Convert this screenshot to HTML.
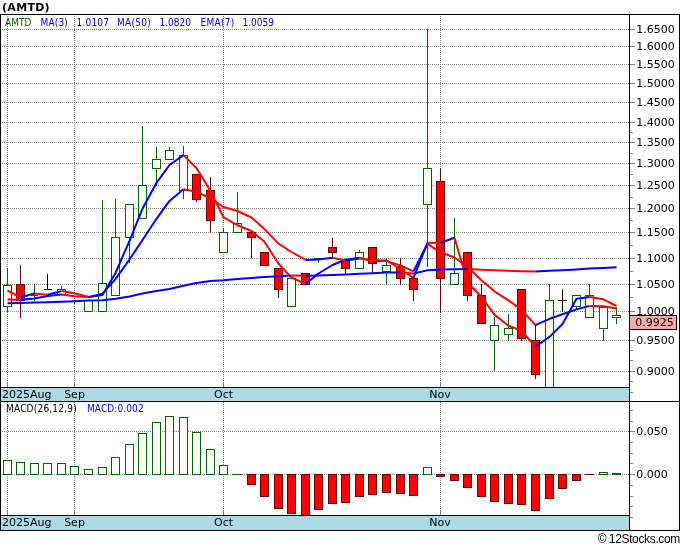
<!DOCTYPE html>
<html><head><meta charset="utf-8"><title>AMTD</title>
<style>
html,body{margin:0;padding:0;background:#fff;}
body{width:680px;height:546px;overflow:hidden;}
svg{display:block;}
.ax{font-family:"DejaVu Sans","Liberation Sans",sans-serif;font-size:11px;fill:#000;}
.lg{font-family:"DejaVu Sans Condensed","Liberation Sans",sans-serif;font-size:10px;}
.tt{font-family:"DejaVu Sans","Liberation Sans",sans-serif;font-size:11px;font-weight:bold;fill:#000;letter-spacing:0.3px;}
.cp{font-family:"Liberation Sans",sans-serif;font-size:12px;fill:#000;letter-spacing:-0.35px;}
</style></head>
<body>
<svg width="680" height="546" viewBox="0 0 680 546">
<rect x="0" y="0" width="680" height="546" fill="#fff"/>
<g shape-rendering="crispEdges" stroke="#8a8a8a" stroke-width="1" stroke-dasharray="1 1" fill="none">
<line x1="0" y1="29.5" x2="629" y2="29.5"/>
<line x1="0" y1="46.5" x2="629" y2="46.5"/>
<line x1="0" y1="64.5" x2="629" y2="64.5"/>
<line x1="0" y1="83.5" x2="629" y2="83.5"/>
<line x1="0" y1="102.5" x2="629" y2="102.5"/>
<line x1="0" y1="122.5" x2="629" y2="122.5"/>
<line x1="0" y1="142.5" x2="629" y2="142.5"/>
<line x1="0" y1="163.5" x2="629" y2="163.5"/>
<line x1="0" y1="185.5" x2="629" y2="185.5"/>
<line x1="0" y1="208.5" x2="629" y2="208.5"/>
<line x1="0" y1="232.5" x2="629" y2="232.5"/>
<line x1="0" y1="258.5" x2="629" y2="258.5"/>
<line x1="0" y1="284.5" x2="629" y2="284.5"/>
<line x1="0" y1="311.5" x2="629" y2="311.5"/>
<line x1="0" y1="340.5" x2="629" y2="340.5"/>
<line x1="0" y1="371.5" x2="629" y2="371.5"/>
<line x1="0" y1="431.5" x2="629" y2="431.5"/>
<line x1="0" y1="474.5" x2="629" y2="474.5"/>
<line x1="7.5" y1="14" x2="7.5" y2="382"/>
<line x1="7.5" y1="402" x2="7.5" y2="510"/>
<line x1="74.5" y1="14" x2="74.5" y2="382"/>
<line x1="74.5" y1="402" x2="74.5" y2="510"/>
<line x1="223.5" y1="14" x2="223.5" y2="382"/>
<line x1="223.5" y1="402" x2="223.5" y2="510"/>
<line x1="440.5" y1="14" x2="440.5" y2="382"/>
<line x1="440.5" y1="402" x2="440.5" y2="510"/>
</g>
<g shape-rendering="crispEdges" stroke="#808080" stroke-width="1">
<line x1="7.5" y1="382" x2="7.5" y2="387"/>
<line x1="7.5" y1="510" x2="7.5" y2="515"/>
<line x1="74.5" y1="382" x2="74.5" y2="387"/>
<line x1="74.5" y1="510" x2="74.5" y2="515"/>
<line x1="223.5" y1="382" x2="223.5" y2="387"/>
<line x1="223.5" y1="510" x2="223.5" y2="515"/>
<line x1="440.5" y1="382" x2="440.5" y2="387"/>
<line x1="440.5" y1="510" x2="440.5" y2="515"/>
</g>
<g shape-rendering="crispEdges" stroke-width="1">
<line x1="7.5" y1="268" x2="7.5" y2="312" stroke="#006400"/>
<rect x="3.5" y="285.5" width="8" height="21" fill="#fff" stroke="#006400"/>
<line x1="20.5" y1="265" x2="20.5" y2="318" stroke="#640000"/>
<rect x="16.5" y="284.5" width="8" height="16" fill="#FF0000" stroke="#640000"/>
<line x1="34.5" y1="284" x2="34.5" y2="301" stroke="#006400"/>
<line x1="31" y1="295.5" x2="38" y2="295.5" stroke="#006400"/>
<line x1="47.5" y1="274" x2="47.5" y2="290" stroke="#000"/>
<line x1="44" y1="289.5" x2="52" y2="289.5" stroke="#000"/>
<line x1="61.5" y1="286" x2="61.5" y2="295" stroke="#006400"/>
<rect x="57.5" y="289.5" width="8" height="5" fill="#fff" stroke="#006400"/>
<line x1="74.5" y1="300" x2="74.5" y2="304" stroke="#000"/>
<line x1="70" y1="301.5" x2="79" y2="301.5" stroke="#000"/>
<line x1="88.5" y1="300" x2="88.5" y2="312" stroke="#006400"/>
<rect x="84.5" y="300.5" width="8" height="11" fill="#fff" stroke="#006400"/>
<line x1="102.5" y1="200" x2="102.5" y2="312" stroke="#006400"/>
<rect x="98.5" y="283.5" width="8" height="28" fill="#fff" stroke="#006400"/>
<line x1="115.5" y1="199" x2="115.5" y2="296" stroke="#006400"/>
<rect x="111.5" y="237.5" width="8" height="58" fill="#fff" stroke="#006400"/>
<line x1="129.5" y1="204" x2="129.5" y2="263" stroke="#006400"/>
<rect x="125.5" y="204.5" width="8" height="33" fill="#fff" stroke="#006400"/>
<line x1="142.5" y1="126" x2="142.5" y2="219" stroke="#006400"/>
<rect x="138.5" y="185.5" width="8" height="33" fill="#fff" stroke="#006400"/>
<line x1="156.5" y1="147" x2="156.5" y2="186" stroke="#006400"/>
<rect x="152.5" y="159.5" width="8" height="9" fill="#fff" stroke="#006400"/>
<line x1="169.5" y1="147" x2="169.5" y2="160" stroke="#006400"/>
<rect x="165.5" y="150.5" width="8" height="9" fill="#fff" stroke="#006400"/>
<line x1="183.5" y1="146" x2="183.5" y2="199" stroke="#006400"/>
<rect x="179.5" y="155.5" width="8" height="35" fill="#fff" stroke="#006400"/>
<line x1="196.5" y1="174" x2="196.5" y2="202" stroke="#640000"/>
<rect x="192.5" y="174.5" width="8" height="25" fill="#FF0000" stroke="#640000"/>
<line x1="210.5" y1="177" x2="210.5" y2="233" stroke="#640000"/>
<rect x="206.5" y="190.5" width="8" height="30" fill="#FF0000" stroke="#640000"/>
<line x1="223.5" y1="228" x2="223.5" y2="253" stroke="#006400"/>
<rect x="219.5" y="232.5" width="8" height="20" fill="#fff" stroke="#006400"/>
<line x1="237.5" y1="192" x2="237.5" y2="233" stroke="#006400"/>
<rect x="233.5" y="223.5" width="8" height="9" fill="#fff" stroke="#006400"/>
<line x1="251.5" y1="232" x2="251.5" y2="258" stroke="#640000"/>
<rect x="247.5" y="232.5" width="8" height="5" fill="#FF0000" stroke="#640000"/>
<line x1="264.5" y1="252" x2="264.5" y2="266" stroke="#640000"/>
<rect x="260.5" y="252.5" width="8" height="13" fill="#FF0000" stroke="#640000"/>
<line x1="278.5" y1="268" x2="278.5" y2="298" stroke="#640000"/>
<rect x="274.5" y="268.5" width="8" height="21" fill="#FF0000" stroke="#640000"/>
<line x1="291.5" y1="278" x2="291.5" y2="307" stroke="#006400"/>
<rect x="287.5" y="278.5" width="8" height="28" fill="#fff" stroke="#006400"/>
<line x1="305.5" y1="273" x2="305.5" y2="285" stroke="#640000"/>
<rect x="301.5" y="273.5" width="8" height="11" fill="#FF0000" stroke="#640000"/>
<line x1="318.5" y1="258" x2="318.5" y2="263" stroke="#006400"/>
<line x1="314" y1="258.5" x2="323" y2="258.5" stroke="#006400"/>
<line x1="332.5" y1="238" x2="332.5" y2="259" stroke="#640000"/>
<rect x="328.5" y="247.5" width="8" height="5" fill="#FF0000" stroke="#640000"/>
<line x1="345.5" y1="259" x2="345.5" y2="275" stroke="#640000"/>
<rect x="341.5" y="259.5" width="8" height="9" fill="#FF0000" stroke="#640000"/>
<line x1="359.5" y1="250" x2="359.5" y2="269" stroke="#006400"/>
<rect x="355.5" y="252.5" width="8" height="16" fill="#fff" stroke="#006400"/>
<line x1="372.5" y1="247" x2="372.5" y2="273" stroke="#640000"/>
<rect x="368.5" y="247.5" width="8" height="16" fill="#FF0000" stroke="#640000"/>
<line x1="386.5" y1="258" x2="386.5" y2="285" stroke="#006400"/>
<rect x="382.5" y="265.5" width="8" height="6" fill="#fff" stroke="#006400"/>
<line x1="400.5" y1="258" x2="400.5" y2="285" stroke="#640000"/>
<rect x="396.5" y="266.5" width="8" height="12" fill="#FF0000" stroke="#640000"/>
<line x1="413.5" y1="278" x2="413.5" y2="301" stroke="#640000"/>
<rect x="409.5" y="278.5" width="8" height="11" fill="#FF0000" stroke="#640000"/>
<line x1="427.5" y1="29" x2="427.5" y2="267" stroke="#006400"/>
<rect x="423.5" y="168.5" width="8" height="36" fill="#fff" stroke="#006400"/>
<line x1="440.5" y1="168" x2="440.5" y2="313" stroke="#640000"/>
<rect x="436.5" y="181.5" width="8" height="97" fill="#FF0000" stroke="#640000"/>
<line x1="454.5" y1="218" x2="454.5" y2="285" stroke="#006400"/>
<rect x="450.5" y="273.5" width="8" height="11" fill="#fff" stroke="#006400"/>
<line x1="467.5" y1="252" x2="467.5" y2="301" stroke="#640000"/>
<rect x="463.5" y="252.5" width="8" height="43" fill="#FF0000" stroke="#640000"/>
<line x1="481.5" y1="284" x2="481.5" y2="324" stroke="#640000"/>
<rect x="477.5" y="295.5" width="8" height="28" fill="#FF0000" stroke="#640000"/>
<line x1="494.5" y1="317" x2="494.5" y2="371" stroke="#006400"/>
<rect x="490.5" y="325.5" width="8" height="15" fill="#fff" stroke="#006400"/>
<line x1="508.5" y1="314" x2="508.5" y2="341" stroke="#006400"/>
<rect x="504.5" y="328.5" width="8" height="6" fill="#fff" stroke="#006400"/>
<line x1="521.5" y1="289" x2="521.5" y2="341" stroke="#640000"/>
<rect x="517.5" y="289.5" width="8" height="49" fill="#FF0000" stroke="#640000"/>
<line x1="535.5" y1="325" x2="535.5" y2="379" stroke="#640000"/>
<rect x="531.5" y="340.5" width="8" height="34" fill="#FF0000" stroke="#640000"/>
<line x1="549.5" y1="284" x2="549.5" y2="387" stroke="#006400"/>
<rect x="545.5" y="300.5" width="8" height="88" fill="#fff" stroke="#006400"/>
<line x1="562.5" y1="289" x2="562.5" y2="312" stroke="#000"/>
<line x1="558" y1="300.5" x2="567" y2="300.5" stroke="#000"/>
<line x1="576.5" y1="295" x2="576.5" y2="309" stroke="#006400"/>
<rect x="572.5" y="295.5" width="8" height="11" fill="#fff" stroke="#006400"/>
<line x1="589.5" y1="284" x2="589.5" y2="318" stroke="#006400"/>
<rect x="585.5" y="295.5" width="8" height="22" fill="#fff" stroke="#006400"/>
<line x1="603.5" y1="307" x2="603.5" y2="341" stroke="#006400"/>
<rect x="599.5" y="307.5" width="8" height="21" fill="#fff" stroke="#006400"/>
<line x1="616.5" y1="307" x2="616.5" y2="324" stroke="#006400"/>
<rect x="612.5" y="315.5" width="8" height="2" fill="#fff" stroke="#006400"/>
</g>
<g shape-rendering="crispEdges" stroke-width="1">
<rect x="3.5" y="460.5" width="8" height="14" fill="#fff" stroke="#006400"/>
<rect x="16.5" y="462.5" width="8" height="12" fill="#fff" stroke="#006400"/>
<rect x="30.5" y="463.5" width="8" height="11" fill="#fff" stroke="#006400"/>
<rect x="43.5" y="463.5" width="8" height="11" fill="#fff" stroke="#006400"/>
<rect x="57.5" y="463.5" width="8" height="11" fill="#fff" stroke="#006400"/>
<rect x="70.5" y="466.5" width="8" height="8" fill="#fff" stroke="#006400"/>
<rect x="84.5" y="469.5" width="8" height="5" fill="#fff" stroke="#006400"/>
<rect x="98.5" y="467.5" width="8" height="7" fill="#fff" stroke="#006400"/>
<rect x="111.5" y="457.5" width="8" height="17" fill="#fff" stroke="#006400"/>
<rect x="125.5" y="444.5" width="8" height="30" fill="#fff" stroke="#006400"/>
<rect x="138.5" y="433.5" width="8" height="41" fill="#fff" stroke="#006400"/>
<rect x="152.5" y="422.5" width="8" height="52" fill="#fff" stroke="#006400"/>
<rect x="165.5" y="416.5" width="8" height="58" fill="#fff" stroke="#006400"/>
<rect x="179.5" y="417.5" width="8" height="57" fill="#fff" stroke="#006400"/>
<rect x="192.5" y="432.5" width="8" height="42" fill="#fff" stroke="#006400"/>
<rect x="206.5" y="449.5" width="8" height="25" fill="#fff" stroke="#006400"/>
<rect x="219.5" y="465.5" width="8" height="9" fill="#fff" stroke="#006400"/>
<line x1="233" y1="474.5" x2="242" y2="474.5" stroke="#006400"/>
<rect x="247.5" y="474.5" width="8" height="10" fill="#FF0000" stroke="#640000"/>
<rect x="260.5" y="474.5" width="8" height="22" fill="#FF0000" stroke="#640000"/>
<rect x="274.5" y="474.5" width="8" height="34" fill="#FF0000" stroke="#640000"/>
<rect x="287.5" y="474.5" width="8" height="39" fill="#FF0000" stroke="#640000"/>
<rect x="301.5" y="474.5" width="8" height="42" fill="#FF0000" stroke="#640000"/>
<rect x="314.5" y="474.5" width="8" height="35" fill="#FF0000" stroke="#640000"/>
<rect x="328.5" y="474.5" width="8" height="29" fill="#FF0000" stroke="#640000"/>
<rect x="341.5" y="474.5" width="8" height="28" fill="#FF0000" stroke="#640000"/>
<rect x="355.5" y="474.5" width="8" height="22" fill="#FF0000" stroke="#640000"/>
<rect x="368.5" y="474.5" width="8" height="20" fill="#FF0000" stroke="#640000"/>
<rect x="382.5" y="474.5" width="8" height="18" fill="#FF0000" stroke="#640000"/>
<rect x="396.5" y="474.5" width="8" height="19" fill="#FF0000" stroke="#640000"/>
<rect x="409.5" y="474.5" width="8" height="21" fill="#FF0000" stroke="#640000"/>
<rect x="423.5" y="467.5" width="8" height="7" fill="#fff" stroke="#006400"/>
<rect x="436.5" y="474.5" width="8" height="2" fill="#FF0000" stroke="#640000"/>
<rect x="450.5" y="474.5" width="8" height="6" fill="#FF0000" stroke="#640000"/>
<rect x="463.5" y="474.5" width="8" height="13" fill="#FF0000" stroke="#640000"/>
<rect x="477.5" y="474.5" width="8" height="22" fill="#FF0000" stroke="#640000"/>
<rect x="490.5" y="474.5" width="8" height="27" fill="#FF0000" stroke="#640000"/>
<rect x="504.5" y="474.5" width="8" height="29" fill="#FF0000" stroke="#640000"/>
<rect x="517.5" y="474.5" width="8" height="30" fill="#FF0000" stroke="#640000"/>
<rect x="531.5" y="474.5" width="8" height="36" fill="#FF0000" stroke="#640000"/>
<rect x="545.5" y="474.5" width="8" height="24" fill="#FF0000" stroke="#640000"/>
<rect x="558.5" y="474.5" width="8" height="14" fill="#FF0000" stroke="#640000"/>
<rect x="572.5" y="474.5" width="8" height="6" fill="#FF0000" stroke="#640000"/>
<line x1="585" y1="474.5" x2="594" y2="474.5" stroke="#640000"/>
<rect x="599.5" y="472.5" width="8" height="2" fill="#fff" stroke="#006400"/>
<rect x="612" y="473" width="9" height="2" fill="#006400" stroke="none"/>
</g>
<g fill="none" stroke-width="2" stroke-linejoin="round" stroke-linecap="butt">
<polyline points="7.5,290.5 20.5,297.3" stroke="#FF0000"/>
<polyline points="20.5,297.3 34.5,293.5" stroke="#0000FF"/>
<polyline points="34.5,293.5 47.5,294.8" stroke="#FF0000"/>
<polyline points="47.5,294.8 61.5,291.1" stroke="#0000FF"/>
<polyline points="61.5,291.1 74.5,293.3 88.5,296.9" stroke="#FF0000"/>
<polyline points="88.5,296.9 102.5,294.9 115.5,273.0 129.5,240.8 142.5,208.7 156.5,182.8 169.5,165.0 183.5,155.1" stroke="#0000FF"/>
<polyline points="183.5,155.1 196.5,168.0 210.5,191.0 223.5,217.2 237.5,225.3 251.5,231.0 264.5,241.8 278.5,263.7 291.5,277.5 305.5,283.9" stroke="#FF0000"/>
<polyline points="305.5,283.9 318.5,273.5 332.5,265.0 345.5,259.8 359.5,257.8" stroke="#0000FF"/>
<polyline points="359.5,257.8 372.5,261.4" stroke="#FF0000"/>
<polyline points="372.5,261.4 386.5,260.4" stroke="#0000FF"/>
<polyline points="386.5,260.4 400.5,269.0 413.5,277.8" stroke="#FF0000"/>
<polyline points="413.5,277.8 427.5,242.8" stroke="#0000FF"/>
<polyline points="427.5,242.8 440.5,242.8" stroke="#FF0000"/>
<polyline points="440.5,242.8 454.5,237.7" stroke="#0000FF"/>
<polyline points="454.5,237.7 467.5,282.3 481.5,297.0 494.5,314.6 508.5,325.8 521.5,330.8 535.5,346.7" stroke="#FF0000"/>
<polyline points="535.5,346.7 549.5,336.9 562.5,324.0 576.5,298.8 589.5,297.1" stroke="#0000FF"/>
<polyline points="589.5,297.1 603.5,299.3 616.5,306.0" stroke="#FF0000"/>
<polyline points="7.5,303.2 20.5,303.0 34.5,302.6 47.5,302.2 61.5,301.8 74.5,301.3 88.5,300.6 102.5,300.2 115.5,298.8 129.5,296.5 142.5,293.6 156.5,291.0 169.5,289.0 183.5,285.8 196.5,283.0 210.5,281.0 223.5,280.2 237.5,279.0 251.5,278.0 264.5,277.0 278.5,276.2 291.5,275.6" stroke="#0000FF"/>
<polyline points="291.5,275.6 305.5,275.8" stroke="#FF0000"/>
<polyline points="305.5,275.8 318.5,275.4 332.5,275.0 345.5,274.4 359.5,273.8 372.5,273.2 386.5,272.6 400.5,272.4" stroke="#0000FF"/>
<polyline points="400.5,272.4 413.5,273.6" stroke="#FF0000"/>
<polyline points="413.5,273.6 427.5,270.2 440.5,269.6 454.5,269.3 467.5,269.1" stroke="#0000FF"/>
<polyline points="467.5,269.1 481.5,269.8 494.5,270.2 508.5,270.8 521.5,271.2 535.5,271.6" stroke="#FF0000"/>
<polyline points="535.5,271.6 549.5,270.8 562.5,270.2 576.5,269.4 589.5,268.6 603.5,268.0 616.5,267.2" stroke="#0000FF"/>
<polyline points="7.5,299.4 20.5,299.7" stroke="#FF0000"/>
<polyline points="20.5,299.7 34.5,298.5 47.5,296.1 61.5,294.4" stroke="#0000FF"/>
<polyline points="61.5,294.4 74.5,296.2 88.5,297.1" stroke="#FF0000"/>
<polyline points="88.5,297.1 102.5,293.7 115.5,279.1 129.5,259.5 142.5,240.0 156.5,218.8 169.5,200.9 183.5,189.2" stroke="#0000FF"/>
<polyline points="183.5,189.2 196.5,191.7 210.5,198.7 223.5,207.0 237.5,211.0 251.5,217.5 264.5,229.1 278.5,243.6 291.5,252.0 305.5,259.9" stroke="#FF0000"/>
<polyline points="305.5,259.9 318.5,259.6 332.5,257.8" stroke="#0000FF"/>
<polyline points="332.5,257.8 345.5,260.4" stroke="#FF0000"/>
<polyline points="345.5,260.4 359.5,258.5" stroke="#0000FF"/>
<polyline points="359.5,258.5 372.5,259.7 386.5,261.1 400.5,265.4 413.5,271.4" stroke="#FF0000"/>
<polyline points="413.5,271.4 427.5,243.8" stroke="#0000FF"/>
<polyline points="427.5,243.8 440.5,252.3 454.5,257.5 467.5,266.7 481.5,280.3 494.5,291.3 508.5,300.4 521.5,309.6 535.5,325.1" stroke="#FF0000"/>
<polyline points="535.5,325.1 549.5,318.8 562.5,314.2 576.5,309.4 589.5,305.9" stroke="#0000FF"/>
<polyline points="589.5,305.9 603.5,306.2 616.5,308.5" stroke="#FF0000"/>
</g>
<g shape-rendering="crispEdges">
<rect x="1" y="388" width="628" height="13" fill="#ADD8E6"/>
<rect x="1" y="516" width="628" height="14" fill="#ADD8E6"/>
<g stroke="#000" stroke-width="1">
<line x1="0" y1="14.5" x2="680" y2="14.5"/>
<line x1="0.5" y1="14" x2="0.5" y2="531"/>
<line x1="679.5" y1="14" x2="679.5" y2="531"/>
<line x1="629.5" y1="14" x2="629.5" y2="531"/>
<line x1="0" y1="530.5" x2="680" y2="530.5"/>
<line x1="0" y1="401.5" x2="680" y2="401.5"/>
<line x1="0" y1="387.5" x2="630" y2="387.5"/>
<line x1="0" y1="515.5" x2="630" y2="515.5"/>
</g>
<g stroke="#808080" stroke-width="1">
<line x1="630" y1="29.5" x2="635" y2="29.5"/>
<line x1="630" y1="46.5" x2="635" y2="46.5"/>
<line x1="630" y1="64.5" x2="635" y2="64.5"/>
<line x1="630" y1="83.5" x2="635" y2="83.5"/>
<line x1="630" y1="102.5" x2="635" y2="102.5"/>
<line x1="630" y1="122.5" x2="635" y2="122.5"/>
<line x1="630" y1="142.5" x2="635" y2="142.5"/>
<line x1="630" y1="163.5" x2="635" y2="163.5"/>
<line x1="630" y1="185.5" x2="635" y2="185.5"/>
<line x1="630" y1="208.5" x2="635" y2="208.5"/>
<line x1="630" y1="232.5" x2="635" y2="232.5"/>
<line x1="630" y1="258.5" x2="635" y2="258.5"/>
<line x1="630" y1="284.5" x2="635" y2="284.5"/>
<line x1="630" y1="311.5" x2="635" y2="311.5"/>
<line x1="630" y1="340.5" x2="635" y2="340.5"/>
<line x1="630" y1="371.5" x2="635" y2="371.5"/>
<line x1="630" y1="431.5" x2="635" y2="431.5"/>
<line x1="630" y1="474.5" x2="635" y2="474.5"/>
<line x1="630" y1="132.5" x2="633" y2="132.5"/>
<line x1="630" y1="153.5" x2="633" y2="153.5"/>
<line x1="630" y1="174.5" x2="633" y2="174.5"/>
<line x1="630" y1="197.5" x2="633" y2="197.5"/>
<line x1="630" y1="220.5" x2="633" y2="220.5"/>
<line x1="630" y1="245.5" x2="633" y2="245.5"/>
<line x1="630" y1="271.5" x2="633" y2="271.5"/>
<line x1="630" y1="297.5" x2="633" y2="297.5"/>
<line x1="630" y1="350.5" x2="633" y2="350.5"/>
<line x1="630" y1="360.5" x2="633" y2="360.5"/>
<line x1="630" y1="381.5" x2="633" y2="381.5"/>
<line x1="630" y1="392.5" x2="633" y2="392.5"/>
<line x1="630" y1="410.5" x2="633" y2="410.5"/>
<line x1="630" y1="421.5" x2="633" y2="421.5"/>
<line x1="630" y1="442.5" x2="633" y2="442.5"/>
<line x1="630" y1="453.5" x2="633" y2="453.5"/>
<line x1="630" y1="463.5" x2="633" y2="463.5"/>
<line x1="630" y1="485.5" x2="633" y2="485.5"/>
<line x1="630" y1="496.5" x2="633" y2="496.5"/>
<line x1="630" y1="506.5" x2="633" y2="506.5"/>
<line x1="630" y1="517.5" x2="633" y2="517.5"/>
</g>
<rect x="629.5" y="315.5" width="47" height="14" fill="#FFAAAA" stroke="#000" stroke-width="1"/>
</g>
<g class="ax">
<text x="636.2" y="32.5">1.6500</text>
<text x="636.2" y="49.5">1.6000</text>
<text x="636.2" y="67.5">1.5500</text>
<text x="636.2" y="86.5">1.5000</text>
<text x="636.2" y="105.5">1.4500</text>
<text x="636.2" y="125.5">1.4000</text>
<text x="636.2" y="145.5">1.3500</text>
<text x="636.2" y="166.5">1.3000</text>
<text x="636.2" y="188.5">1.2500</text>
<text x="636.2" y="211.5">1.2000</text>
<text x="636.2" y="235.5">1.1500</text>
<text x="636.2" y="261.5">1.1000</text>
<text x="636.2" y="287.5">1.0500</text>
<text x="636.2" y="314.5" clip-path="url(#cl)">1.0000</text>
<text x="636.2" y="343.5">0.9500</text>
<text x="636.2" y="374.5">0.9000</text>
<text x="636.2" y="434.5">0.050</text>
<text x="636.2" y="477.5">0.000</text>
<text x="635.2" y="325.5">0.9925</text>
<text x="2" y="398">2025Aug</text>
<text x="74.5" y="398" text-anchor="middle">Sep</text>
<text x="223.5" y="398" text-anchor="middle">Oct</text>
<text x="440" y="398" text-anchor="middle">Nov</text>
<text x="2" y="526">2025Aug</text>
<text x="74.5" y="526" text-anchor="middle">Sep</text>
<text x="223.5" y="526" text-anchor="middle">Oct</text>
<text x="440" y="526" text-anchor="middle">Nov</text>
</g>
<defs><clipPath id="cl"><rect x="630" y="300" width="50" height="15"/></clipPath></defs>
<text class="tt" x="2" y="11">(AMTD)</text>
<g class="lg">
<text x="5" y="25.5" fill="#006400">AMTD</text>
<text x="40.5" y="25.5" fill="#0000FF" letter-spacing="0.15">MA(3)</text>
<text x="76.5" y="25.5" fill="#0000FF" letter-spacing="0.2">1.0107</text>
<text x="117" y="25.5" fill="#0000FF" letter-spacing="0.3">MA(50)</text>
<text x="159.5" y="25.5" fill="#0000FF" letter-spacing="0">1.0820</text>
<text x="200.5" y="25.5" fill="#0000FF" letter-spacing="0.3">EMA(7)</text>
<text x="242.5" y="25.5" fill="#0000FF" letter-spacing="0">1.0059</text>
<text x="6" y="412" fill="#000" letter-spacing="0.2">MACD(26,12,9)</text>
<text x="87" y="412" fill="#0000FF" letter-spacing="0.1">MACD:0.002</text>
</g>
<text class="cp" x="680" y="542.5" text-anchor="end">©<tspan dx="2.6">12Stocks.com</tspan></text>
</svg>
</body></html>
